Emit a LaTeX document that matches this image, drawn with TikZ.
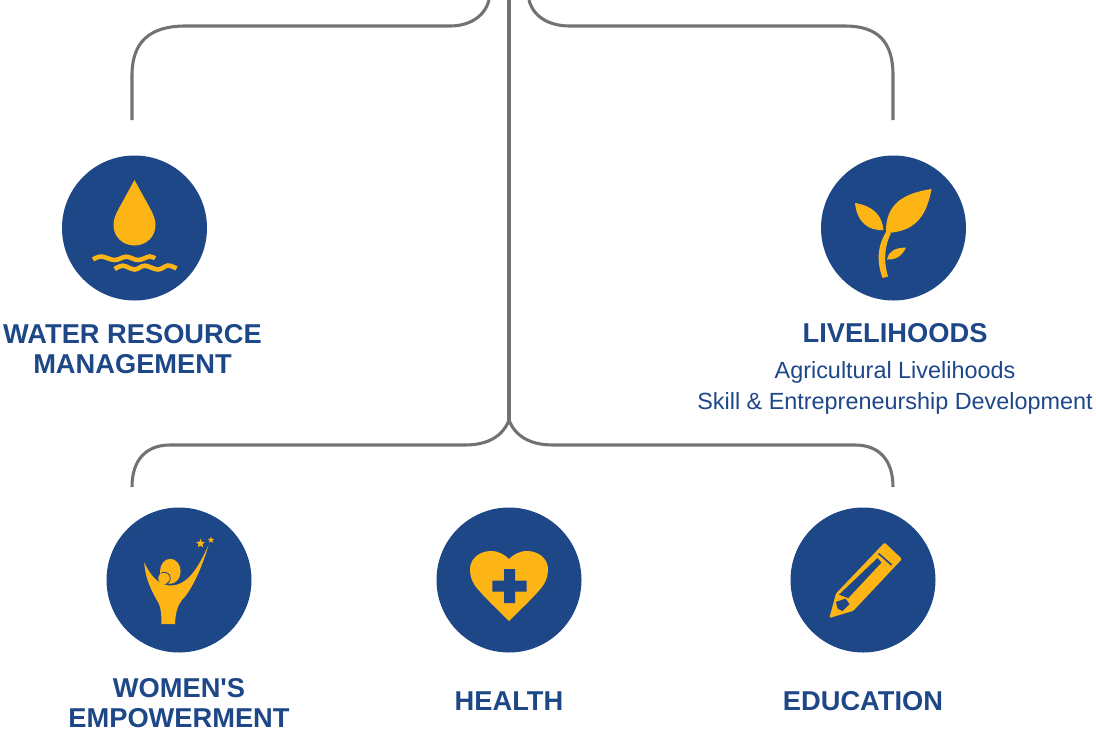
\documentclass[tikz,border=0pt]{standalone}
\usepackage{fontspec}
\setmainfont{Liberation Sans}
\usetikzlibrary{shapes.geometric}
\definecolor{navy}{HTML}{1E4788}
\definecolor{amber}{HTML}{FDB515}
\definecolor{linkgray}{HTML}{727272}
\tikzset{
  disc/.style={circle,fill=navy,minimum size=108.75pt,inner sep=0pt,draw=none},
  head/.style={text=navy,font=\fontsize{20.45pt}{23pt}\selectfont\bfseries,align=center,inner sep=0pt},
  sub/.style={text=navy,font=\fontsize{17.55pt}{23.25pt}\selectfont,align=center,inner sep=0pt},
  link/.style={draw=linkgray,line width=2.3pt,line cap=butt},
  icon/.style={fill=amber,draw=none},
  wave/.style={draw=amber,line width=3.4pt},
  star5/.style={star,star points=5,star point ratio=2.3,fill=amber,inner sep=0pt,draw=none}
}
\begin{document}
\begin{tikzpicture}[x=0.75pt,y=-0.75pt]
\useasboundingbox (0,0) rectangle (1096,729);
\node[disc] (water) at (134.5,228) {};
\node[disc] (live) at (893.5,228) {};
\node[disc] (women) at (179,580) {};
\node[disc] (health) at (509,580) {};
\node[disc] (edu) at (863,580) {};
\coordinate (topc) at (509,0);
\coordinate (topl) at (489,0);
\coordinate (topr) at (529,0);
\coordinate (fork) at (509,420);
\coordinate (wend) at (132,120);
\coordinate (lend) at (893,120);
\coordinate (bl) at (132,487);
\coordinate (br) at (893,487);
\draw[link] (topl) .. controls (485,16) and (470,26) .. (450,26) -- (185,26) .. controls (150,26) and (132,42) .. (132,75) -- (wend);
\draw[link] (topr) .. controls (533,16) and (548,26) .. (570,26) -- (845,26) .. controls (878,26) and (893,42) .. (893,75) -- (lend);
\draw[link] (topc) -- (fork);
\draw[link] (fork) .. controls (503,436) and (488,445) .. (465,445) -- (170,445) .. controls (146,445) and (132,460) .. (bl);
\draw[link] (fork) .. controls (515,436) and (530,445) .. (553,445) -- (855,445) .. controls (879,445) and (893,460) .. (br);
% water icon
\fill[icon] (134.5,180) -- (118,210) .. controls (115,216) and (113.5,220) .. (113.5,225) .. controls (113.5,237) and (123,245.5) .. (134.5,245.5) .. controls (146,245.5) and (155.5,237) .. (155.5,225) .. controls (155.5,220) and (154,216) .. (151,210) -- cycle;
\draw[wave] plot[smooth,tension=0.6] coordinates {(93,259.5) (101.3,256.5) (114.7,260) (126.3,256.7) (138,260) (149.7,256.5) (155,258.5)};
\draw[wave] plot[smooth,tension=0.6] coordinates {(114.7,269) (123,265.7) (134.7,269.5) (144.7,265.7) (158,269.5) (168,265.5) (176.5,268.5)};
% plant icon
\fill[icon] (931.5,189) .. controls (905,193) and (885,203) .. (886,233) .. controls (912,232) and (926,220) .. (931.5,189) -- cycle;
\fill[icon] (855,203) .. controls (873,206) and (882,215) .. (883.5,230) .. controls (868,231) and (857,222) .. (855,203) -- cycle;
\fill[icon] (906,247.5) .. controls (896,248) and (889,250) .. (887,259.5) .. controls (896,260) and (902,256) .. (906,247.5) -- cycle;
\fill[icon] (886,232) .. controls (878,245) and (876,260) .. (882.5,278) -- (888,276.5) .. controls (883,260) and (885,245) .. (891,233) -- cycle;
% women icon
\fill[icon] (144.3,562.3) .. controls (150,575) and (158,585) .. (170,585.5) .. controls (188,586) and (199,566) .. (208.5,545) .. controls (203,565) and (192,590) .. (182,600) .. controls (177,606) and (175.5,614) .. (175,624) -- (161.5,624) .. controls (161.5,615) and (161,609) .. (159,604) .. controls (151,590) and (145,578) .. (144.3,562.3) -- cycle;
\fill[icon] (170.3,571.3) ellipse [x radius=10.3,y radius=12.5];
\fill[icon] (164.3,578.3) circle [radius=6];
\draw[navy,line width=0.6pt] (164.3,578.3) ++(-120:6) arc [start angle=-120,end angle=70,radius=6];
\node[star5,minimum size=7pt] (s1) at (200.5,543.5) {};
\node[star5,minimum size=5pt] (s2) at (211,540) {};
% heart icon
\fill[icon] (509,621) .. controls (498,610) and (484,597) .. (476,587) .. controls (470,579) and (470,572) .. (470,568) .. controls (471,557) and (481,551) .. (491,551) .. controls (499,551) and (505,555) .. (509,559) .. controls (513,555) and (519,551) .. (527,551) .. controls (537,551) and (547,557) .. (548,568) .. controls (548,572) and (548,579) .. (542,587) .. controls (534,597) and (520,610) .. (509,621) -- cycle;
\fill[navy] (504,569) -- (515,569) -- (515,580.7) -- (526.5,580.7) -- (526.5,591.7) -- (515,591.7) -- (515,603) -- (504,603) -- (504,591.7) -- (492.3,591.7) -- (492.3,580.7) -- (504,580.7) -- cycle;
% pencil icon
\fill[icon,rounded corners=1pt] (884.6,542.5) -- (902,559) -- (853.3,610.8) -- (829.3,618) -- (836,593.5) -- cycle;
\fill[navy] (877.5,558) -- (839,594.7) -- (848.3,598) -- (881.5,562.5) -- cycle;
\draw[navy,line width=1.2pt] (878.5,553.5) -- (891.7,565);
\fill[navy] (836,602) -- (845.5,598.5) -- (849.5,604) -- (842.5,611) -- (837.5,608.5) -- cycle;
% labels
\node[head] (wt) at (132.5,349) {WATER RESOURCE\\MANAGEMENT};
\node[head] (lt) at (895,333.5) {LIVELIHOODS};
\node[sub] (ls) at (895,387.5) {Agricultural Livelihoods\\Skill \& Entrepreneurship Development};
\node[head] (wet) at (179,703) {WOMEN\textquotesingle S\\EMPOWERMENT};
\node[head] (ht) at (509,701) {HEALTH};
\node[head] (et) at (863,701) {EDUCATION};
\end{tikzpicture}
\end{document}
